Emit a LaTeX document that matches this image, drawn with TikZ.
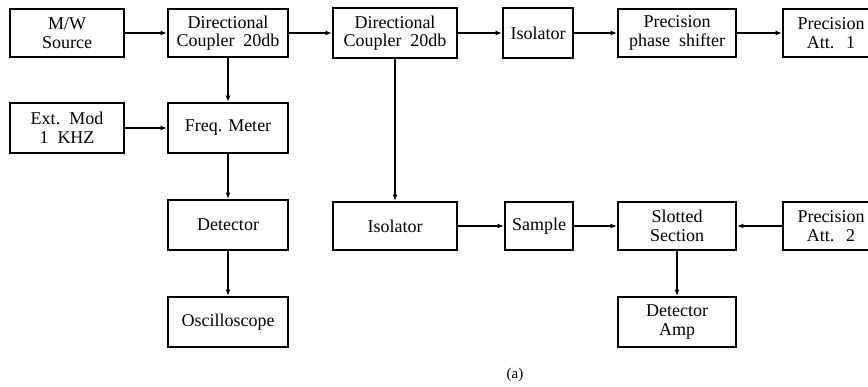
\documentclass[tikz,border=0pt]{standalone}
\usepackage{fontspec}
\setmainfont{Liberation Serif}
\usetikzlibrary{arrows.meta}
\begin{document}
\begin{tikzpicture}[x=1pt,y=-1pt,
  blk/.style={draw,line width=1.9pt,rectangle,inner sep=0pt,align=center,
    font=\fontsize{18}{18.5}\selectfont},
  conn/.style={line width=1.6pt,-{Latex[length=6.5pt,width=5pt]}}]
\useasboundingbox (0,0) rectangle (868,387);
\begin{scope}
\clip (0,0) rectangle (868,387);
\node[blk,minimum width=114pt,minimum height=48pt] (src) at (67,33) {M/W\\Source};
\node[blk,minimum width=120pt,minimum height=48pt] (dc1) at (228,33) {Directional\\Coupler\ \ 20db};
\node[blk,minimum width=124pt,minimum height=50pt] (dc2) at (395,33) {Directional\\Coupler\ \ 20db};
\node[blk,minimum width=70pt,minimum height=50pt] (iso1) at (538,33) {Isolator};
\node[blk,minimum width=118pt,minimum height=48pt] (phs) at (677,33) {Precision\\phase\ \ shifter};
\node[blk,minimum width=96pt,minimum height=48pt,text width=85pt] (att1) at (831,33) {Precision\\Att.\ \ 1};
\node[blk,minimum width=114pt,minimum height=50pt] (ext) at (67,128) {Ext.\ \ Mod\\1\ \ KHZ};
\node[blk,minimum width=120pt,minimum height=50pt] (freq) at (228,128) {Freq. Meter};
\node[blk,minimum width=120pt,minimum height=50pt] (det) at (228,225) {Detector};
\node[blk,minimum width=124pt,minimum height=48pt] (iso2) at (395,226) {Isolator};
\node[blk,minimum width=68pt,minimum height=48pt] (smp) at (539,226) {Sample};
\node[blk,minimum width=118pt,minimum height=48pt] (slot) at (677,226) {Slotted\\Section};
\node[blk,minimum width=96pt,minimum height=48pt,text width=85pt] (att2) at (831,226) {Precision\\Att.\ \ 2};
\node[blk,minimum width=120pt,minimum height=50pt] (osc) at (228,322) {Oscilloscope};
\node[blk,minimum width=118pt,minimum height=50pt] (damp) at (677,322) {Detector\\Amp};
\node[font=\fontsize{15}{16}\selectfont] (lab) at (515,375) {(a)};
\end{scope}
\draw[conn] (src.east) -- (dc1.west);
\draw[conn] (dc1.east) -- (dc1.east -| dc2.west);
\draw[conn] (dc2.east |- iso1.west) -- (iso1.west);
\draw[conn] (iso1.east) -- (iso1.east -| phs.west);
\draw[conn] (phs.east) -- (phs.east -| att1.west);
\draw[conn] (dc1.south) -- (freq.north);
\draw[conn] (ext.east) -- (ext.east -| freq.west);
\draw[conn] (freq.south) -- (det.north);
\draw[conn] (det.south) -- (det.south |- osc.north);
\draw[conn] (dc2.south) -- (iso2.north);
\draw[conn] (iso2.east) -- (smp.west);
\draw[conn] (smp.east) -- (slot.west);
\draw[conn] (att2.west) -- (att2.west -| slot.east);
\draw[conn] (slot.south) -- (damp.north);
\end{tikzpicture}
\end{document}
